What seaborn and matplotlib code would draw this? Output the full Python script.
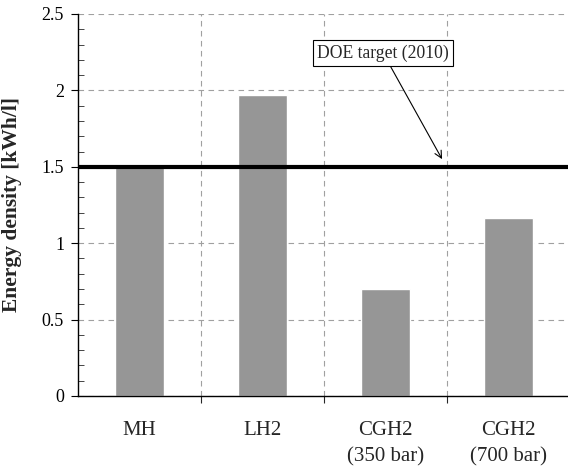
import matplotlib
matplotlib.use("Agg")
import matplotlib.pyplot as plt
import seaborn as sns
import pandas as pd
from matplotlib.ticker import FixedLocator, MultipleLocator

categories = ["MH", "LH2", "CGH2\n(350 bar)", "CGH2\n(700 bar)"]
values = [1.50, 1.97, 0.70, 1.165]
target = 1.5
target_label = "DOE target (2010)"
yticks = [0, 0.5, 1, 1.5, 2, 2.5]
ytick_labels = ["0", "0.5", "1", "1.5", "2", "2.5"]

sns.set_theme(style="white")
plt.rcParams["font.family"] = ["Liberation Serif", "DejaVu Serif"]

df = pd.DataFrame({"cat": categories, "val": values})

fig = plt.figure(figsize=(5.68, 4.70), dpi=100)
ax = fig.add_axes([78/568, 74/470, (570-78)/568, 382/470])

sns.barplot(data=df, x="cat", y="val", color="#969696", width=0.4,
            saturation=1, ax=ax, zorder=2)

ax.set_xlim(-0.5, 3.5)
ax.set_ylim(0, 2.5)

ax.axhline(target, color="black", lw=3.0, zorder=4)

# ticks
ax.yaxis.set_major_locator(FixedLocator(yticks))
ax.set_yticklabels(ytick_labels, fontsize=13)
ax.yaxis.set_minor_locator(MultipleLocator(0.1))
ax.tick_params(axis="y", which="major", direction="out", length=5, width=0.8,
               left=True, colors="black", pad=5)
ax.tick_params(axis="y", which="minor", direction="in", length=4, width=0.6,
               left=True)
ax.set_xticks(range(len(categories)))
ax.set_xticklabels(categories, fontsize=15, linespacing=1.5)
ax.xaxis.set_minor_locator(FixedLocator([0.5, 1.5, 2.5]))
ax.tick_params(axis="x", which="major", direction="in", length=5, width=0.8,
               bottom=True, pad=18)
ax.tick_params(axis="x", which="minor", direction="out", length=5, width=0.8,
               bottom=True)

ax.grid(False)
ax.yaxis.grid(True, which="major", linestyle=(0, (5, 4)), color="#a0a0a0", lw=0.8, zorder=0)
ax.xaxis.grid(True, which="minor", linestyle=(0, (5, 4)), color="#a0a0a0", lw=0.8, zorder=0)
ax.set_axisbelow(True)

for s in ["top", "right"]:
    ax.spines[s].set_visible(False)
for s in ["left", "bottom"]:
    ax.spines[s].set_color("black")
    ax.spines[s].set_linewidth(1.0)

ax.set_xlabel("")
ax.set_ylabel("Energy density [kWh/l]", fontsize=15.5, fontweight="bold")
ax.yaxis.set_label_coords(-0.114, 0.5)

ax.annotate(target_label, xy=(2.46, 1.55), xytext=(1.98, 2.245),
            ha="center", va="center", fontsize=12.7,
            bbox=dict(boxstyle="square,pad=0.22", fc="white", ec="black", lw=0.8),
            arrowprops=dict(arrowstyle="->", color="black", lw=0.8,
                            shrinkA=0, shrinkB=0),
            zorder=5)

fig.savefig("out.png", dpi=100)
